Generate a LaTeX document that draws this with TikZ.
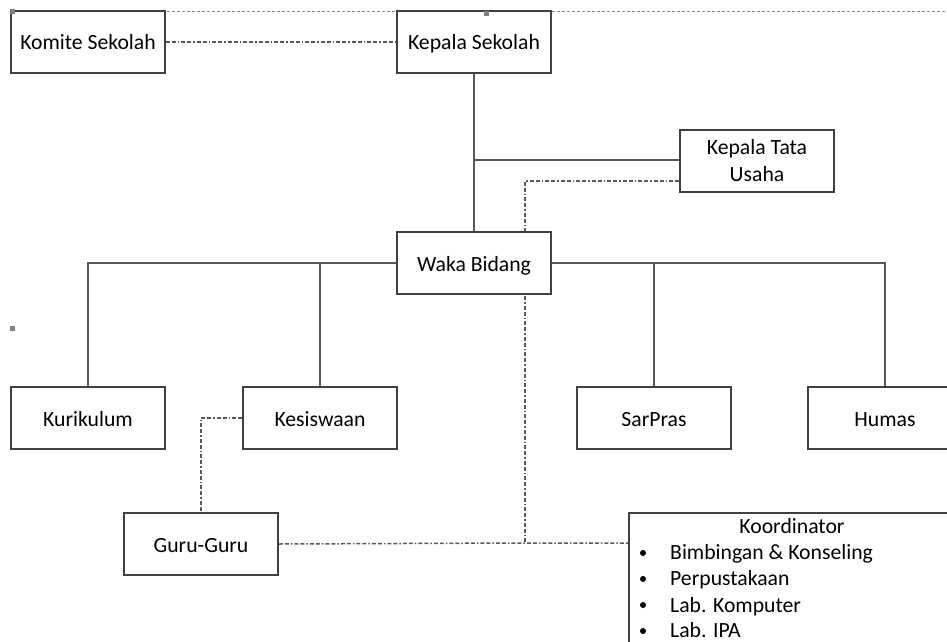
\documentclass[tikz,border=0pt]{standalone}
\usepackage{fontspec}
\setmainfont{Carlito}
\usetikzlibrary{backgrounds,calc}
\begin{document}
\begin{tikzpicture}[x=1pt,y=-1pt,
  box/.style={draw=black!75,line width=1.6pt,fill=white,minimum width=154pt,minimum height=62pt,inner sep=0pt,align=center,
    text height=20pt,text depth=4pt,font=\fontsize{21.7pt}{27pt}\selectfont},
  solidline/.style={draw=black!65,line width=1.6pt},
  dashdot/.style={draw=black!65,line width=1.5pt,dash pattern=on 4pt off 2pt on 4pt off 2pt on 1.5pt off 2pt},
  txt/.style={font=\fontsize{21.7pt}{26pt}\selectfont,inner sep=0pt,anchor=base west},
  handle/.style={fill=black!50,draw=none}]
\clip (0,0) rectangle (947,642);
\draw[black!45,line width=0.8pt,dash pattern=on 3pt off 2pt] (12,11) -- (947,11);
% nodes
\node[box] (komite) at (88,42) {Komite Sekolah};
\node[box] (kepsek) at (474,42) {Kepala Sekolah};
\node[box,text height=,text depth=] (ktu) at (757,161) {Kepala Tata\\Usaha};
\node[box] (waka) at (474,263) {Waka Bidang};
\node[box] (kur) at (88,418) {Kurikulum};
\node[box] (kes) at (320,418) {Kesiswaan};
\node[box] (sar) at (654,418) {SarPras};
\node[box] (hum) at (885,418) {Humas};
\node[box] (guru) at (201,544) {Guru-Guru};
\node[box,anchor=north west,minimum width=340pt,minimum height=160pt,text height=0pt,text depth=0pt] (koord) at (628,512) {};
\node[font=\fontsize{21.7pt}{26pt}\selectfont,inner sep=0pt,anchor=base] (kt) at (792,533) {Koordinator};
\foreach \t/\yy/\by [count=\i] in {Bimbingan \& Konseling/553/559,Perpustakaan/579/585.5,Lab. Komputer/605/612,Lab. IPA/631/637.5}{
  \fill (643,\yy) circle (3pt);
  \node[txt] (item\i) at (670,\by) {\t};
}
\fill[handle] (10,9) rectangle (15,14);
\fill[handle] (484,11) rectangle (489,16);
\fill[handle] (10,326) rectangle (15,331);
% connectors
\begin{pgfonlayer}{background}
\coordinate (jt) at (474,160);
\coordinate (jw) at (474,263);
\coordinate (jd) at (525,543);
\draw[dashdot] (komite.east) -- (kepsek.west);
\draw[solidline] (kepsek.south) -- (waka.north);
\draw[solidline] (jt) -- (jt -| ktu.west);
\draw[dashdot] ($(ktu.west)+(0,20)$) -| (jd);
\draw[dashdot] (guru.east) -- (jd) -- (jd -| koord.west);
\draw[solidline] (kur.north) |- (jw) -| (hum.north);
\draw[solidline] (kes.north) -- (kes.north |- jw);
\draw[solidline] (sar.north) -- (sar.north |- jw);
\draw[dashdot] (kes.west) -| (guru.north);
\end{pgfonlayer}
\end{tikzpicture}
\end{document}
